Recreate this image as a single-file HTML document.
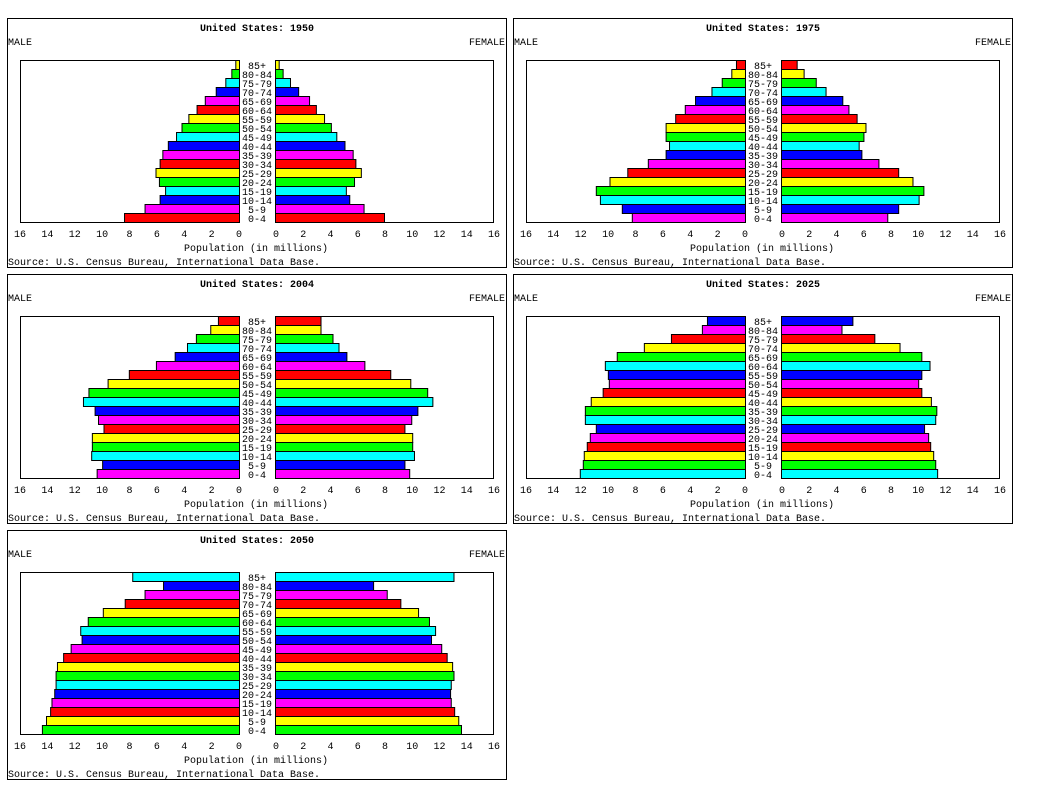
<!DOCTYPE html>
<html><head><meta charset="utf-8"><style>
body{margin:0;background:#fff;width:1044px;height:801px;overflow:hidden}
svg text{font-family:"Liberation Mono","DejaVu Sans Mono",monospace;font-size:10px;fill:#000}
</style></head><body>
<svg id="root" width="1044" height="801"></svg>
<script>
const ages=["0-4","5-9","10-14","15-19","20-24","25-29","30-34","35-39","40-44","45-49","50-54","55-59","60-64","65-69","70-74","75-79","80-84","85+"];
const ticks=[0,2,4,6,8,10,12,14,16];
const palette=["#ff0000","#ff00ff","#0000ff","#00ffff","#00ff00","#ffff00"];
const years=["1950","1975","2004","2025","2050"];
const colorOffsets=[0,1,1,3,4];
const male1950=[8.4,6.9,5.8,5.4,5.85,6.1,5.8,5.6,5.2,4.6,4.2,3.7,3.1,2.5,1.7,1.0,0.56,0.27];
const female1950=[8.0,6.5,5.45,5.2,5.8,6.3,5.9,5.7,5.1,4.5,4.1,3.6,3.0,2.5,1.7,1.1,0.56,0.27];
const male1975=[8.27,9.0,10.6,10.9,9.9,8.6,7.1,5.8,5.55,5.8,5.8,5.1,4.4,3.65,2.45,1.7,1.0,0.66];
const female1975=[7.8,8.6,10.1,10.45,9.65,8.6,7.15,5.9,5.7,6.05,6.2,5.55,4.95,4.5,3.27,2.55,1.66,1.15];
const male2004=[10.4,10.0,10.8,10.75,10.75,9.9,10.3,10.55,11.4,11.0,9.6,8.05,6.07,4.7,3.8,3.15,2.1,1.54];
const female2004=[9.85,9.5,10.2,10.07,10.07,9.5,10.0,10.45,11.55,11.17,9.93,8.46,6.56,5.24,4.66,4.22,3.34,3.34];
const male2025=[12.07,11.85,11.78,11.56,11.34,10.9,11.7,11.7,11.27,10.4,9.95,10.02,10.24,9.37,7.39,5.41,3.15,2.78];
const female2025=[11.46,11.32,11.17,10.95,10.8,10.5,11.32,11.4,11.0,10.3,10.07,10.3,10.9,10.3,8.7,6.85,4.44,5.24];
const male2050=[14.4,14.1,13.8,13.7,13.5,13.4,13.4,13.3,12.85,12.3,11.5,11.6,11.05,9.95,8.35,6.9,5.55,7.8];
const female2050=[13.65,13.45,13.15,12.9,12.85,12.9,13.1,13.0,12.6,12.2,11.45,11.75,11.3,10.5,9.2,8.2,7.2,13.1];
const maleData=[male1950,male1975,male2004,male2025,male2050];
const femaleData=[female1950,female1975,female2004,female2025,female2050];

const NS="http://www.w3.org/2000/svg";
const root=document.getElementById('root');
function mk(tag,attrs,parent){const e=document.createElementNS(NS,tag);for(const k in attrs)e.setAttribute(k,attrs[k]);parent.appendChild(e);return e;}
const origins=[[7,18],[513,18],[7,274],[513,274],[7,530]];
const LX0=232,LX1=13,RX0=269,RX1=487,TOP=42,BOT=204,BH=9,MAXV=16;
function xl(v){return LX0-v*(LX0-LX1)/MAXV;}
function xr(v){return RX0+v*(RX1-RX0)/MAXV;}
function yb(i){return BOT-(i+1)*BH;}
years.forEach((yr,p)=>{
  const g=mk('g',{transform:`translate(${origins[p][0]},${origins[p][1]})`},root);
  
  
  const fr=mk('rect',{x:0.5,y:0.5,width:499,height:249,fill:'#fff',stroke:'#000'},g);
  
  
  const t=mk('text',{x:250,y:13,'text-anchor':'middle','font-weight':'bold','font-size':'11'},g);t.textContent='United States: '+yr;
  
  
  const m=mk('text',{x:1,y:27},g);m.textContent='MALE';
  
  
  const f=mk('text',{x:498,y:27,'text-anchor':'end'},g);f.textContent='FEMALE';
  
  
  const b1=mk('rect',{x:LX1+0.5,y:TOP+0.5,width:LX0-LX1,height:BOT-TOP,fill:'none',stroke:'#000'},g);
  
  
  const b2=mk('rect',{x:RX0-0.5,y:TOP+0.5,width:RX1-RX0,height:BOT-TOP,fill:'none',stroke:'#000'},g);
  
  
  ages.forEach((a,i)=>{
    const c=palette[(i+colorOffsets[p])%6];
    const mv=maleData[p][i],fv=femaleData[p][i];
    const rm=mk('rect',{x:xl(mv)+0.5,y:yb(i)+0.5,width:LX0-xl(mv),height:BH,fill:c,stroke:'#000'},g);
    
    
    const rf=mk('rect',{x:RX0-0.5,y:yb(i)+0.5,width:xr(fv)-RX0,height:BH,fill:c,stroke:'#000'},g);
    
    
    const al=mk('text',{x:250,y:yb(i)+9,'text-anchor':'middle','font-size':'11'},g);al.textContent=a;
    
    
  });
  ticks.forEach(v=>{
    const tl=mk('text',{x:xl(v),y:219,'text-anchor':'middle','font-size':'11'},g);tl.textContent=v;
    
    
    const tr=mk('text',{x:xr(v),y:219,'text-anchor':'middle','font-size':'11'},g);tr.textContent=v;
    
    
  });
  const xt=mk('text',{x:249,y:233,'text-anchor':'middle'},g);xt.textContent='Population (in millions)';
  
  
  const s=mk('text',{x:1,y:247},g);s.textContent='Source: U.S. Census Bureau, International Data Base.';
  
  
});
</script>
</body></html>
